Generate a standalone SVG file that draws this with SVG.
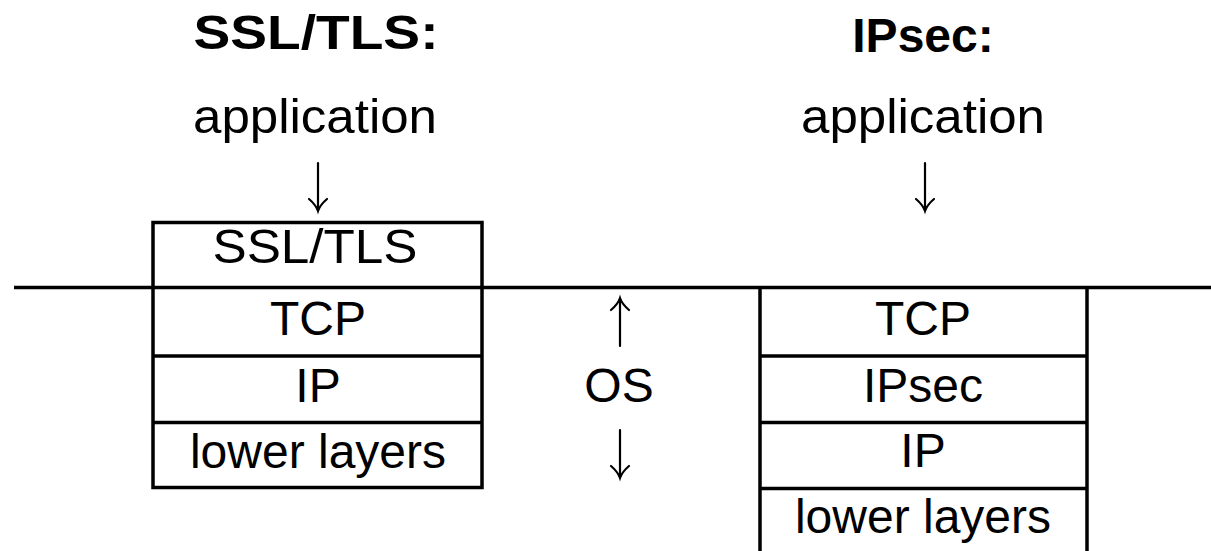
<svg xmlns="http://www.w3.org/2000/svg" width="1211" height="551" viewBox="0 0 1211 551">
<style>
.t{font-family:"Liberation Sans",Arial,sans-serif;font-size:48px;fill:#000;text-anchor:middle}
.b{font-weight:bold}
.ln{stroke:#000;stroke-width:3.5;fill:none}
.ar{stroke:#000;stroke-width:2.2;fill:none;stroke-linecap:round}
</style>
<defs>
<path id="down" d="M0,0 V48 M-9,36 Q-2,42 0,48 Q2,42 9,36"/>
<path id="up" d="M0,48 V0 M-9,12 Q-2,6 0,0 Q2,6 9,12"/>
</defs>
<rect width="1211" height="551" fill="#fff"/>
<g id="titles">
<text class="t b" x="316" y="49" textLength="245" lengthAdjust="spacingAndGlyphs">SSL/TLS:</text>
<text class="t b" x="923" y="52">IPsec:</text>
<text class="t" x="315" y="133" textLength="244" lengthAdjust="spacingAndGlyphs">application</text>
<text class="t" x="923" y="133" textLength="244" lengthAdjust="spacingAndGlyphs">application</text>
</g>
<g id="os-line">
<line class="ln" x1="14" y1="287.5" x2="1211" y2="287.5"/>
</g>
<g id="ssl-stack">
<rect class="ln" x="153" y="222.5" width="329" height="265"/>
<line class="ln" x1="153" y1="356" x2="482" y2="356"/>
<line class="ln" x1="153" y1="422.5" x2="482" y2="422.5"/>
<text class="t" x="315" y="263" textLength="205" lengthAdjust="spacingAndGlyphs">SSL/TLS</text>
<text class="t" x="318" y="335">TCP</text>
<text class="t" x="318" y="402">IP</text>
<text class="t" x="318" y="468">lower layers</text>
</g>
<g id="ipsec-stack">
<line class="ln" x1="760" y1="287.5" x2="760" y2="551"/>
<line class="ln" x1="1087" y1="287.5" x2="1087" y2="551"/>
<line class="ln" x1="760" y1="356" x2="1087" y2="356"/>
<line class="ln" x1="760" y1="422.5" x2="1087" y2="422.5"/>
<line class="ln" x1="760" y1="488.5" x2="1087" y2="488.5"/>
<text class="t" x="923" y="335">TCP</text>
<text class="t" x="923" y="402">IPsec</text>
<text class="t" x="923" y="467">IP</text>
<text class="t" x="923" y="533">lower layers</text>
</g>
<g id="os-label">
<text class="t" x="619" y="402">OS</text>
</g>
<g id="connectors">
<use href="#down" class="ar" x="318" y="163"/>
<use href="#down" class="ar" x="925" y="163"/>
<use href="#up" class="ar" x="620" y="298"/>
<use href="#down" class="ar" x="620" y="430"/>
</g>
</svg>
